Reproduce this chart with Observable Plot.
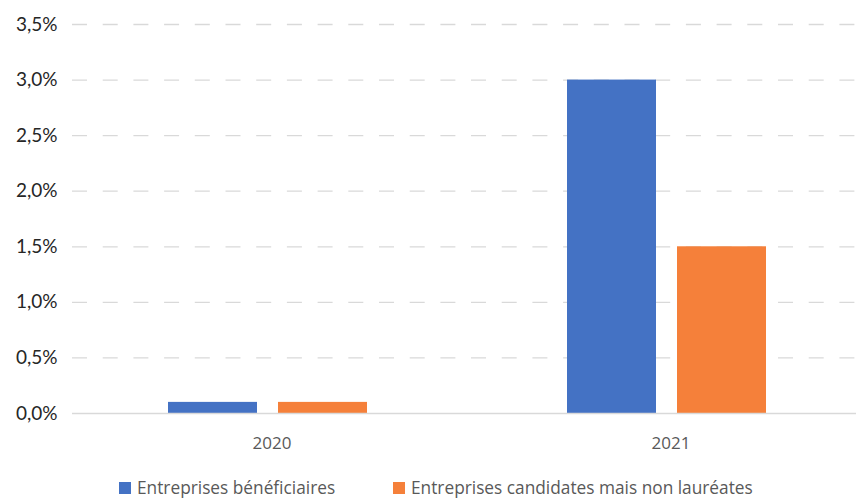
<!DOCTYPE html>
<html>
<head>
<meta charset="utf-8">
<script src="https://cdn.jsdelivr.net/npm/d3@7"></script>
<script src="https://cdn.jsdelivr.net/npm/@observablehq/plot@0.6"></script>
<style>
  html, body { margin: 0; padding: 0; background: white; overflow: hidden; }
  #chart { width: 856px; overflow: hidden; }
  #chart svg { overflow: hidden; }
  #legend { position: relative; width: 856px; height: 37px; font-family: "Open Sans", sans-serif; font-size: 17.3px; color: #595959; }
  .item { position: absolute; top: 16px; height: 20px; line-height: 20px; display: flex; align-items: center; white-space: nowrap; }
  .swatch { width: 12px; height: 12px; margin-right: 6px; }
</style>
</head>
<body>
<div id="chart"></div>
<div id="legend"></div>
<script>
const years = ["2020", "2021"];
const seriesNames = ["Entreprises bénéficiaires", "Entreprises candidates mais non lauréates"];
const beneficiaires = [0.1, 3.0];
const candidates = [0.1, 1.5];
const yTicks = [0, 0.5, 1, 1.5, 2, 2.5, 3, 3.5];
const colors = ["#4472C4", "#F5803A"];

const data = years.flatMap((year, i) => [
  {year, series: seriesNames[0], value: beneficiaires[i]},
  {year, series: seriesNames[1], value: candidates[i]}
]);

const fmt = d => d.toFixed(1).replace(".", ",") + "%";

const chart = Plot.plot({
  width: 856,
  height: 462,
  marginLeft: 72,
  marginRight: -14,
  marginTop: 24,
  marginBottom: 49,
  style: {fontFamily: "Open Sans", background: "white"},
  fx: {domain: years, padding: 0, label: null},
  x: {domain: seriesNames, paddingInner: 0.189, paddingOuter: 0.892, align: 0.48, axis: null},
  y: {domain: [0, 3.5]},
  color: {domain: seriesNames, range: colors},
  marks: [
    Plot.ruleY(yTicks.filter(d => d > 0), {stroke: "#d9d9d9", strokeWidth: 1.3, strokeDasharray: "15,15.7"}),
    Plot.barY(data, {fx: "year", x: "series", y: "value", fill: "series"}),
    Plot.ruleY([0], {stroke: "#d9d9d9", strokeWidth: 1.3}),
    Plot.axisY(yTicks, {tickSize: 0, tickPadding: 15, tickFormat: fmt, fontSize: 19, fontFamily: "Lato", fill: "#262626", label: null}),
    Plot.axisFx({anchor: "bottom", tickSize: 0, tickPadding: 23, fontSize: 17, fill: "#595959", label: null})
  ]
});
document.getElementById("chart").appendChild(chart);

const legend = document.getElementById("legend");
const lefts = [119, 393];
seriesNames.forEach((name, i) => {
  const item = document.createElement("div");
  item.className = "item";
  item.style.left = lefts[i] + "px";
  const sw = document.createElement("span");
  sw.className = "swatch";
  sw.style.background = colors[i];
  const tx = document.createElement("span");
  tx.textContent = name;
  item.appendChild(sw);
  item.appendChild(tx);
  legend.appendChild(item);
});
</script>
</body>
</html>
